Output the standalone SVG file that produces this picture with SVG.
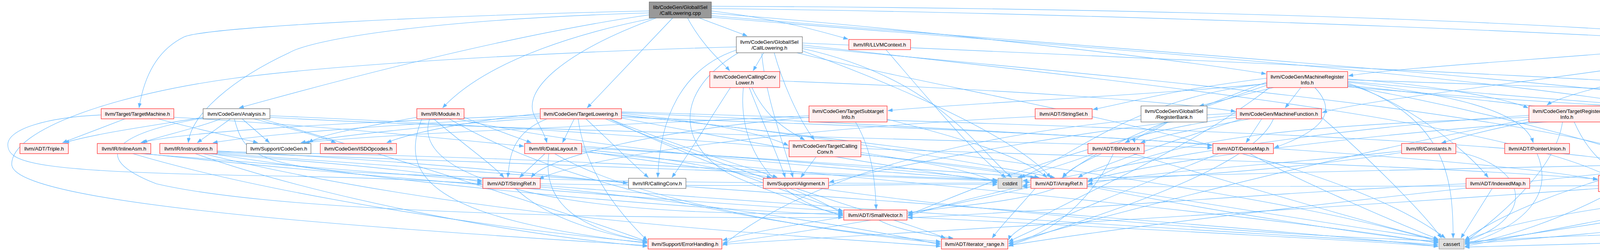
<svg xmlns="http://www.w3.org/2000/svg" width="5687" height="642" viewBox="0 0 5687 642">
<style>
.e path{fill:none;stroke:#63b8ff;stroke-width:1.1;marker-end:url(#ah)}
.n rect{stroke-width:1.2}
.r rect{fill:#fff0f0;stroke:#ff2020}
.g rect{fill:#ffffff;stroke:#666666}
.s rect{fill:#e0e0e0;stroke:#999999}
.root rect{fill:#999999;stroke:#666666}
text{font-family:"Liberation Sans",Arial,Helvetica,sans-serif;font-size:13.3px;fill:#000;text-anchor:middle}
</style>
<defs>
<marker id="ah" markerUnits="userSpaceOnUse" markerWidth="13" markerHeight="10" refX="12" refY="4.5" orient="auto">
<path d="M0,0 L12,4.5 L0,9 z" fill="#63b8ff" stroke="#63b8ff" stroke-width="0.5"/>
</marker>
</defs>
<rect width="5687" height="642" fill="#ffffff"/>
<g id="edges" class="e">
<path d="M1662,28 C1100,40 520,70 470,95 C400,130 368,200 356,276"/>
<path d="M1662,33 C1100,50 800,100 740,135 C600,200 490,290 482,365"/>
<path d="M1662,38 C1300,90 850,210 612,276"/>
<path d="M1675,46 C1500,80 1250,150 1133,276"/>
<path d="M1722,46 L1503,276"/>
<path d="M1680,46 C1450,130 1330,230 1370,300 C1385,330 1395,345 1400,365"/>
<path d="M1790,46 L1913,92"/>
<path d="M1760,46 C1800,120 1850,160 1868,181"/>
<path d="M1821,28 C2000,50 2100,80 2171,100"/>
<path d="M1821,34 C2300,70 3000,150 3241,189"/>
<path d="M1821,22 C2600,30 3800,70 4432,110"/>
<path d="M1821,40 C2500,100 4000,200 4458,273"/>
<path d="M1821,16 C3000,20 4500,60 4900,160 C5050,200 5150,240 5196,276"/>
<path d="M1821,44 C2600,110 3700,180 4253,276"/>
<path d="M1955,135 L1928,181"/>
<path d="M1982,135 C2000,200 2040,300 2085,358"/>
<path d="M1885,128 C1760,170 1690,280 1684,454"/>
<path d="M1950,137 C1960,250 2010,380 2030,454"/>
<path d="M1890,135 C1700,250 1750,400 1900,460 C2000,500 2100,540 2158,548"/>
<path d="M2054,124 C2400,200 2500,380 2590,454"/>
<path d="M2054,130 C2300,220 2600,350 2690,454"/>
<path d="M2040,135 C2500,250 3400,380 3700,609"/>
<path d="M2054,115 C2800,200 3800,300 4110,447"/>
<path d="M2054,120 C2900,200 4100,300 4360,454"/>
<path d="M1885,120 C1500,130 900,160 600,200 C300,240 30,330 30,420 C30,520 900,580 1657,628"/>
<path d="M2054,110 C3200,160 4600,220 5150,276"/>
<path d="M1997,207 C2600,230 3000,260 3163,285"/>
<path d="M1870,224 C1820,300 1760,400 1720,454"/>
<path d="M1903,224 C1890,350 1950,500 2158,552"/>
<path d="M1925,224 C1960,300 2010,330 2060,358"/>
<path d="M1918,224 C1960,330 2000,420 2010,454"/>
<path d="M2268,127 C2400,280 2500,400 2575,454"/>
<path d="M320,304 L160,365"/>
<path d="M405,304 C500,330 600,350 660,365"/>
<path d="M259,294 C120,300 20,330 20,370 C20,420 100,440 700,450 C1000,455 1150,465 1234,470"/>
<path d="M445,300 C800,320 1100,350 1341,374"/>
<path d="M520,300 C400,320 250,340 165,365"/>
<path d="M565,304 C500,330 400,350 365,365"/>
<path d="M590,304 L505,365"/>
<path d="M620,304 L690,365"/>
<path d="M650,304 C750,330 820,350 860,365"/>
<path d="M520,302 C300,340 220,400 400,470 C700,540 1500,560 2158,556"/>
<path d="M691,296 C1500,330 2400,400 2660,454"/>
<path d="M600,304 C620,380 640,420 900,440 C1500,470 2200,470 2553,468"/>
<path d="M691,300 C1200,330 2500,360 3103,378"/>
<path d="M670,304 C1000,400 1500,560 1657,618"/>
<path d="M1067,300 C900,330 820,345 790,365"/>
<path d="M1110,304 C1200,380 1260,420 1290,454"/>
<path d="M1188,300 C1260,330 1320,350 1360,365"/>
<path d="M1080,304 C1020,450 1100,560 1657,622"/>
<path d="M1100,304 C1050,450 1400,560 2158,545"/>
<path d="M1150,304 C1400,450 1800,560 2408,618"/>
<path d="M1170,304 C1600,400 2300,440 2553,462"/>
<path d="M1470,304 L1440,365"/>
<path d="M1500,304 C1550,350 1620,420 1660,454"/>
<path d="M1383,290 C1200,310 1050,340 990,365"/>
<path d="M1383,294 C1000,310 500,330 360,365"/>
<path d="M1383,298 C1000,320 700,340 545,365"/>
<path d="M1383,302 C1100,320 850,350 770,365"/>
<path d="M1400,304 C1310,340 1305,400 1300,454"/>
<path d="M1591,290 C1800,310 1950,340 2018,372"/>
<path d="M1560,304 C1750,380 1950,440 1990,454"/>
<path d="M1591,296 C2000,330 2400,400 2700,454"/>
<path d="M1591,300 C2200,320 2900,350 3103,372"/>
<path d="M1591,288 C2500,330 3800,400 4090,460"/>
<path d="M1480,304 C1500,450 1600,560 1657,615"/>
<path d="M1591,294 C2400,380 3300,500 3682,618"/>
<path d="M1591,302 C2000,380 2300,430 2553,465"/>
<path d="M1560,304 C1800,420 2100,520 2158,540"/>
<path d="M1550,304 C1900,450 2300,560 2420,609"/>
<path d="M1591,286 C3000,330 4100,360 4350,454"/>
<path d="M1395,393 L1330,454"/>
<path d="M1489,385 C1700,420 1900,440 1975,454"/>
<path d="M1405,393 C1390,500 1450,580 1657,618"/>
<path d="M1420,393 C1600,500 2000,580 2408,622"/>
<path d="M1489,378 C1900,400 2300,430 2650,454"/>
<path d="M1489,382 C2000,430 2100,520 2158,545"/>
<path d="M1489,388 C2500,480 3300,560 3682,622"/>
<path d="M1489,374 C2000,410 2400,440 2553,462"/>
<path d="M1320,482 C1400,560 1550,600 1657,618"/>
<path d="M1383,478 C1800,520 2200,580 2408,626"/>
<path d="M1383,474 C2500,560 3300,600 3682,626"/>
<path d="M1383,470 C1900,480 2300,470 2553,472"/>
<path d="M2100,482 C2500,540 3200,600 3682,616"/>
<path d="M2090,400 L2050,454"/>
<path d="M2204,390 C2400,420 2500,440 2553,468"/>
<path d="M2204,395 C2700,450 3300,560 3682,612"/>
<path d="M2204,380 C2800,400 3600,420 4090,458"/>
<path d="M2190,312 C2230,380 2240,450 2243,535"/>
<path d="M2071,300 C1700,330 1400,400 1360,454"/>
<path d="M2271,305 C2450,350 2620,400 2680,454"/>
<path d="M2071,296 C1600,320 1000,340 780,365"/>
<path d="M2250,563 C2300,590 2400,605 2440,609"/>
<path d="M2322,555 C2800,580 3400,610 3682,630"/>
<path d="M2160,555 C2000,580 1900,600 1850,615"/>
<path d="M2700,482 C2600,520 2400,530 2324,545"/>
<path d="M2783,476 C3100,540 3500,600 3682,620"/>
<path d="M2650,482 C2600,540 2560,580 2540,609"/>
<path d="M2639,478 C2300,560 2000,600 1850,622"/>
<path d="M2650,298 C2000,330 1500,400 1380,458"/>
<path d="M2990,312 C2950,340 2900,355 2880,365"/>
<path d="M2820,393 C2760,420 2730,440 2720,454"/>
<path d="M2800,393 C2700,430 2620,450 2605,454"/>
<path d="M2850,393 C2800,500 2700,600 2582,624"/>
<path d="M2900,393 C3200,480 3500,570 3682,614"/>
<path d="M3200,393 C3300,450 3550,560 3682,612"/>
<path d="M3120,393 C2900,480 2700,560 2582,618"/>
<path d="M3200,304 C3000,340 2950,355 2920,365"/>
<path d="M3230,304 L3190,365"/>
<path d="M3165,294 C2800,330 2400,400 2123,466"/>
<path d="M3180,304 C3000,360 2800,430 2760,454"/>
<path d="M3260,304 C3200,450 2700,580 2582,630"/>
<path d="M3383,300 C3500,400 3650,550 3690,609"/>
<path d="M3165,300 C2800,350 2500,480 2324,550"/>
<path d="M3165,290 C2400,320 2000,500 1850,628"/>
<path d="M3330,224 L3290,276"/>
<path d="M3243,200 C3000,230 2900,260 2798,280"/>
<path d="M3260,224 C3150,250 3100,265 3070,271"/>
<path d="M3243,210 C3000,300 2900,350 2905,365"/>
<path d="M3366,224 C3420,280 3400,330 3262,378"/>
<path d="M3450,210 C3700,240 3900,280 3925,365"/>
<path d="M3450,215 C3600,260 3750,380 3810,454"/>
<path d="M3450,202 C3650,215 3850,250 3912,276"/>
<path d="M3450,212 C3700,300 3720,450 3720,609"/>
<path d="M3243,218 C3000,300 2800,380 2720,454"/>
<path d="M3243,214 C2900,250 2750,400 2612,454"/>
<path d="M3450,208 C3900,250 4200,270 4290,276"/>
<path d="M3450,204 C4200,230 4900,250 5112,284"/>
<path d="M3450,218 C4000,280 4500,330 4647,372"/>
<path d="M3450,222 C4000,270 4500,290 4651,292"/>
<path d="M3450,190 C3100,240 2500,260 2273,283"/>
<path d="M3250,224 C3000,420 2600,560 2582,614"/>
<path d="M3450,220 C3900,300 4200,400 4370,454"/>
<path d="M4030,312 C4060,380 4100,420 4150,447"/>
<path d="M4000,312 C3980,450 3800,580 3750,620"/>
<path d="M3914,300 C3400,320 3000,340 2785,466"/>
<path d="M3914,295 C3200,340 2600,470 2324,552"/>
<path d="M4108,300 C4250,360 4330,420 4370,454"/>
<path d="M3914,305 C3400,400 2800,560 2582,622"/>
<path d="M3935,393 C3980,500 3900,580 3750,625"/>
<path d="M3588,386 C3300,420 2900,440 2785,472"/>
<path d="M3727,388 C3900,420 3950,550 3750,618"/>
<path d="M3588,390 C3200,450 2800,460 2618,474"/>
<path d="M3820,482 L3740,609"/>
<path d="M3753,470 C3300,490 2700,540 2324,557"/>
<path d="M4130,489 C4000,560 3850,610 3750,625"/>
<path d="M4092,475 C3500,480 2900,480 2618,478"/>
<path d="M4092,482 C3000,560 2200,600 1850,625"/>
<path d="M4540,135 L4553,181"/>
<path d="M4495,135 C4400,180 4330,250 4310,276"/>
<path d="M4603,128 C4700,150 4800,170 4835,181"/>
<path d="M4434,125 C4200,180 3500,250 3385,288"/>
<path d="M4434,110 C4000,150 3600,170 3452,194"/>
<path d="M4603,120 C4900,180 5100,230 5165,276"/>
<path d="M4603,115 C5000,160 5550,300 5580,360 C5600,420 5480,430 5448,454"/>
<path d="M4434,130 C4200,200 4000,240 3960,269"/>
<path d="M4603,118 C5000,200 5050,300 4810,358"/>
<path d="M4603,132 C5300,250 5670,380 5640,480 C5600,580 4000,590 3750,620"/>
<path d="M4440,135 C4300,250 4220,400 4205,447"/>
<path d="M4544,224 L4544,269"/>
<path d="M4629,210 C4800,260 4720,320 4700,358"/>
<path d="M4520,312 C4400,380 4280,430 4250,447"/>
<path d="M4629,305 C4700,330 4800,350 4880,360"/>
<path d="M4629,300 C4900,330 5100,360 5117,374"/>
<path d="M4480,312 C4420,400 4400,440 4400,454"/>
<path d="M4460,290 C3800,300 3000,400 2785,462"/>
<path d="M4330,304 C4320,400 4250,430 4230,447"/>
<path d="M4436,300 C4600,340 4800,350 4900,360"/>
<path d="M4860,224 C4800,250 4780,260 4770,269"/>
<path d="M4990,224 C5050,250 5150,265 5180,276"/>
<path d="M4830,224 C4700,250 4650,260 4631,272"/>
<path d="M4905,224 C4880,320 4800,350 4780,358"/>
<path d="M4930,224 C4960,280 4940,330 4870,358"/>
<path d="M4945,224 C5100,300 5100,440 4900,460 C4500,500 4000,590 3750,622"/>
<path d="M5003,210 C5300,250 5400,320 5390,365"/>
<path d="M5003,205 C5400,230 5690,300 5682,460 C5670,560 5000,600 3750,632"/>
<path d="M4819,210 C4500,230 4200,250 4110,282"/>
<path d="M4819,218 C4300,240 3900,300 3690,366"/>
<path d="M4745,312 L4745,358"/>
<path d="M5220,304 L5205,365"/>
<path d="M5270,304 C5320,330 5360,350 5372,365"/>
<path d="M5320,304 C5450,340 5550,450 5480,535"/>
<path d="M5180,304 C5100,330 5000,350 4990,358"/>
<path d="M5114,296 C4400,330 3900,500 3750,614"/>
<path d="M4680,400 C4500,500 4000,580 3750,630"/>
<path d="M4649,392 C4000,450 3000,560 2582,628"/>
<path d="M4740,400 C4700,460 4500,475 4425,470"/>
<path d="M4839,395 C5000,420 5200,450 5352,466"/>
<path d="M4950,400 C4800,500 4600,560 3750,624"/>
<path d="M4862,395 C4600,420 4400,440 4273,458"/>
<path d="M5044,392 C5250,440 5400,500 5440,535"/>
<path d="M5180,393 C5000,450 4000,500 3750,616"/>
<path d="M5340,393 C5000,410 3500,430 2618,462"/>
<path d="M5420,482 L5455,535"/>
<path d="M340,393 C700,500 1300,590 1657,620"/>
<path d="M360,393 C800,430 1100,450 1234,462"/>
<path d="M370,393 C900,450 1800,520 2158,540"/>
<path d="M500,393 C800,500 1300,600 1657,630"/>
<path d="M530,393 C900,420 1100,440 1234,466"/>
<path d="M540,393 C1100,480 1700,530 2158,550"/>
<path d="M556,390 C1500,430 2300,460 2637,466"/>
<path d="M556,386 C1200,420 1500,460 1607,468"/>
<path d="M520,393 C1200,560 2000,600 2408,630"/>
<path d="M556,392 C1500,460 3000,560 3682,630"/>
<path d="M556,388 C1400,400 1900,440 2553,460"/>
</g>
<g id="nodes">
<g id="n0" class="n root"><rect x="1662" y="5" width="159" height="41"/><text x="1741.5" y="23">lib/CodeGen/GlobalISel</text><text x="1741.5" y="38">/CallLowering.cpp</text></g>
<g id="n21" class="n r"><rect x="259" y="278" width="186" height="26"/><text x="352" y="295.5">llvm/Target/TargetMachine.h</text></g>
<g id="n1" class="n g"><rect x="520" y="278" width="171" height="26"/><text x="605.5" y="295.5">llvm/CodeGen/Analysis.h</text></g>
<g id="n20" class="n r"><rect x="1067" y="278" width="121" height="26"/><text x="1127.5" y="295.5">llvm/IR/Module.h</text></g>
<g id="n15" class="n r"><rect x="1383" y="278" width="208" height="26"/><text x="1487" y="295.5">llvm/CodeGen/TargetLowering.h</text></g>
<g id="n11" class="n g"><rect x="1885" y="94" width="169" height="41"/><text x="1969.5" y="112">llvm/CodeGen/GlobalISel</text><text x="1969.5" y="127">/CallLowering.h</text></g>
<g id="n10" class="n r"><rect x="1817" y="183" width="179" height="41"/><text x="1906.5" y="201">llvm/CodeGen/CallingConv</text><text x="1906.5" y="216">Lower.h</text></g>
<g id="n19" class="n r"><rect x="2173" y="101" width="158" height="26"/><text x="2252" y="118.5">llvm/IR/LLVMContext.h</text></g>
<g id="n16" class="n r"><rect x="2071" y="271" width="200" height="41"/><text x="2171" y="289">llvm/CodeGen/TargetSubtarget</text><text x="2171" y="304">Info.h</text></g>
<g id="n14" class="n r"><rect x="2020" y="360" width="184" height="41"/><text x="2112" y="378">llvm/CodeGen/TargetCalling</text><text x="2112" y="393">Conv.h</text></g>
<g id="n36" class="n r"><rect x="2650" y="278" width="146" height="26"/><text x="2723" y="295.5">llvm/ADT/StringSet.h</text></g>
<g id="n37" class="n g"><rect x="2921" y="271" width="169" height="41"/><text x="3005.5" y="289">llvm/CodeGen/GlobalISel</text><text x="3005.5" y="304">/RegisterBank.h</text></g>
<g id="n12" class="n r"><rect x="3165" y="278" width="218" height="26"/><text x="3274" y="295.5">llvm/CodeGen/MachineFunction.h</text></g>
<g id="n13" class="n r"><rect x="3243" y="183" width="207" height="41"/><text x="3346.5" y="201">llvm/CodeGen/MachineRegister</text><text x="3346.5" y="216">Info.h</text></g>
<g id="n35" class="n r"><rect x="3914" y="271" width="194" height="41"/><text x="4011" y="289">llvm/CodeGen/TargetRegister</text><text x="4011" y="304">Info.h</text></g>
<g id="n25" class="n g"><rect x="4233" y="278" width="203" height="26"/><text x="4334.5" y="295.5">llvm/CodeGen/LowLevelType.h</text></g>
<g id="n22" class="n g"><rect x="4434" y="94" width="169" height="41"/><text x="4518.5" y="112">llvm/CodeGen/GlobalISel</text><text x="4518.5" y="127">/MachineIRBuilder.h</text></g>
<g id="n23" class="n r"><rect x="4460" y="183" width="169" height="41"/><text x="4544.5" y="201">llvm/CodeGen/GlobalISel</text><text x="4544.5" y="216">/CSEInfo.h</text></g>
<g id="n24" class="n g"><rect x="4460" y="271" width="169" height="41"/><text x="4544.5" y="289">llvm/CodeGen/GlobalISel</text><text x="4544.5" y="304">/Utils.h</text></g>
<g id="n26" class="n r"><rect x="4819" y="183" width="184" height="41"/><text x="4911" y="201">llvm/CodeGen/MachineInstr</text><text x="4911" y="216">Builder.h</text></g>
<g id="n27" class="n g"><rect x="4653" y="271" width="183" height="41"/><text x="4744.5" y="289">llvm/CodeGen/MachineInstr</text><text x="4744.5" y="304">Bundle.h</text></g>
<g id="n28" class="n g"><rect x="5114" y="278" width="218" height="26"/><text x="5223" y="295.5">llvm/CodeGen/MachineOperand.h</text></g>
<g id="n5" class="n r"><rect x="51" y="367" width="124" height="26"/><text x="113" y="384.5">llvm/ADT/Triple.h</text></g>
<g id="n7" class="n r"><rect x="249" y="367" width="137" height="26"/><text x="317.5" y="384.5">llvm/IR/InlineAsm.h</text></g>
<g id="n8" class="n r"><rect x="409" y="367" width="147" height="26"/><text x="482.5" y="384.5">llvm/IR/Instructions.h</text></g>
<g id="n9" class="n g"><rect x="631" y="367" width="165" height="26"/><text x="713.5" y="384.5">llvm/Support/CodeGen.h</text></g>
<g id="n6" class="n r"><rect x="820" y="367" width="195" height="26"/><text x="917.5" y="384.5">llvm/CodeGen/ISDOpcodes.h</text></g>
<g id="n18" class="n r"><rect x="1343" y="367" width="146" height="26"/><text x="1416" y="384.5">llvm/IR/DataLayout.h</text></g>
<g id="n38" class="n r"><rect x="2785" y="367" width="144" height="26"/><text x="2857" y="384.5">llvm/ADT/BitVector.h</text></g>
<g id="n3" class="n r"><rect x="3105" y="367" width="155" height="26"/><text x="3182.5" y="384.5">llvm/ADT/DenseMap.h</text></g>
<g id="n39" class="n r"><rect x="3588" y="367" width="139" height="26"/><text x="3657.5" y="384.5">llvm/IR/Constants.h</text></g>
<g id="n40" class="n r"><rect x="3852" y="367" width="166" height="26"/><text x="3935" y="384.5">llvm/ADT/PointerUnion.h</text></g>
<g id="n29" class="n r"><rect x="4649" y="360" width="190" height="41"/><text x="4744" y="378">llvm/CodeGen/MachineBasic</text><text x="4744" y="393">Block.h</text></g>
<g id="n30" class="n r"><rect x="4862" y="360" width="182" height="41"/><text x="4953" y="378">llvm/Support/LowLevelType</text><text x="4953" y="393">Impl.h</text></g>
<g id="n31" class="n r"><rect x="5119" y="367" width="168" height="26"/><text x="5203" y="384.5">llvm/CodeGen/Register.h</text></g>
<g id="n32" class="n r"><rect x="5310" y="367" width="132" height="26"/><text x="5376" y="384.5">llvm/IR/Intrinsics.h</text></g>
<g id="n46" class="n r"><rect x="1236" y="456" width="147" height="26"/><text x="1309.5" y="473.5">llvm/ADT/StringRef.h</text></g>
<g id="n17" class="n g"><rect x="1609" y="456" width="147" height="26"/><text x="1682.5" y="473.5">llvm/IR/CallingConv.h</text></g>
<g id="n47" class="n r"><rect x="1954" y="456" width="167" height="26"/><text x="2037.5" y="473.5">llvm/Support/Alignment.h</text></g>
<g id="n44" class="n s"><rect x="2555" y="456" width="61" height="26"/><text x="2585.5" y="473.5">cstdint</text></g>
<g id="n2" class="n r"><rect x="2639" y="456" width="144" height="26"/><text x="2711" y="473.5">llvm/ADT/ArrayRef.h</text></g>
<g id="n41" class="n r"><rect x="3753" y="456" width="163" height="26"/><text x="3834.5" y="473.5">llvm/ADT/IndexedMap.h</text></g>
<g id="n42" class="n r"><rect x="4092" y="449" width="179" height="41"/><text x="4181.5" y="467">llvm/Support/MachineValue</text><text x="4181.5" y="482">Type.h</text></g>
<g id="n43" class="n s"><rect x="4346" y="456" width="77" height="26"/><text x="4384.5" y="473.5">functional</text></g>
<g id="n33" class="n r"><rect x="5354" y="456" width="138" height="26"/><text x="5423" y="473.5">llvm/IR/DebugLoc.h</text></g>
<g id="n4" class="n r"><rect x="2160" y="537" width="162" height="26"/><text x="2241" y="554.5">llvm/ADT/SmallVector.h</text></g>
<g id="n34" class="n r"><rect x="5378" y="537" width="172" height="26"/><text x="5464" y="554.5">llvm/Support/DataTypes.h</text></g>
<g id="n49" class="n r"><rect x="1659" y="611" width="189" height="26"/><text x="1753.5" y="628.5">llvm/Support/ErrorHandling.h</text></g>
<g id="n48" class="n r"><rect x="2410" y="611" width="170" height="26"/><text x="2495" y="628.5">llvm/ADT/iterator_range.h</text></g>
<g id="n45" class="n s"><rect x="3684" y="611" width="64" height="26"/><text x="3716" y="628.5">cassert</text></g>
</g>
</svg>
